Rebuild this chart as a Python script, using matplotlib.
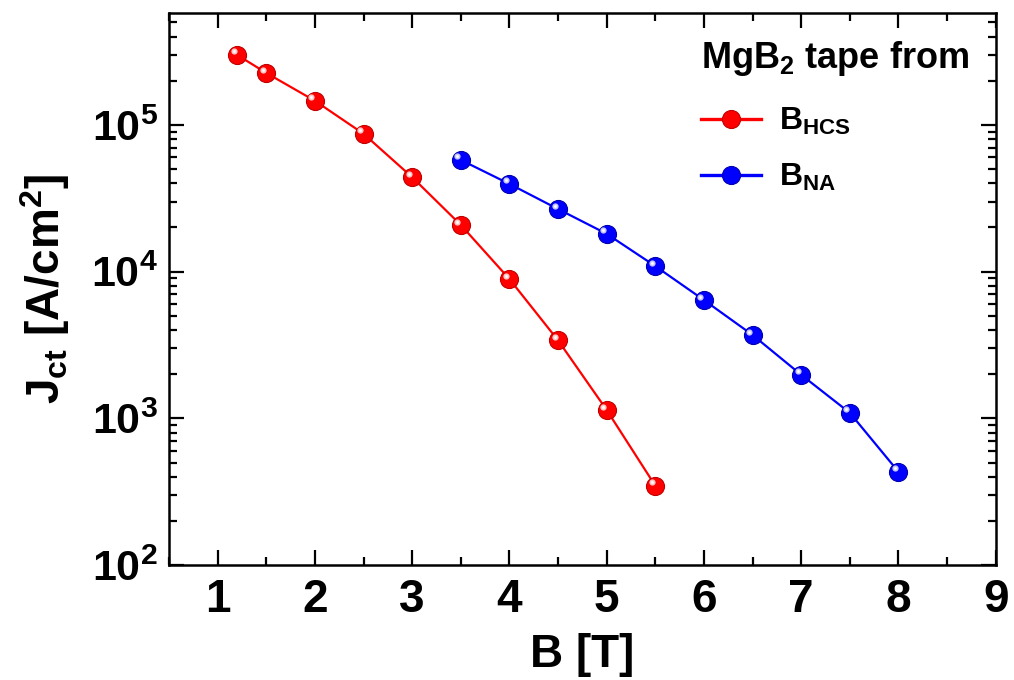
import matplotlib
matplotlib.use("Agg")
import matplotlib.pyplot as plt
from matplotlib.ticker import FixedLocator, FuncFormatter, LogLocator, NullFormatter
import matplotlib.transforms as mtransforms
import numpy as np

plt.rcParams['font.family'] = ['Liberation Sans', 'DejaVu Sans']
plt.rcParams['font.weight'] = 'bold'
plt.rcParams['mathtext.fontset'] = 'custom'
plt.rcParams['mathtext.rm'] = 'Liberation Sans:bold'
plt.rcParams['mathtext.bf'] = 'Liberation Sans:bold'
plt.rcParams['mathtext.it'] = 'Liberation Sans:bold'
plt.rcParams['mathtext.sf'] = 'Liberation Sans:bold'
plt.rcParams['mathtext.default'] = 'rm'

# Data
b_hcs = [1.2, 1.5, 2.0, 2.5, 3.0, 3.5, 4.0, 4.5, 5.0, 5.5]
jc_hcs = [3.0e5, 2.26e5, 1.46e5, 8.7e4, 4.4e4, 2.08e4, 8.9e3, 3.4e3, 1.14e3, 347]
b_na = [3.5, 4.0, 4.5, 5.0, 5.5, 6.0, 6.5, 7.0, 7.5, 8.0]
jc_na = [5.77e4, 3.96e4, 2.67e4, 1.81e4, 1.09e4, 6.4e3, 3.7e3, 1.98e3, 1.09e3, 432]
x_ticks = [1, 2, 3, 4, 5, 6, 7, 8, 9]

fig = plt.figure(figsize=(10.14, 6.8), dpi=100)
ax = fig.add_axes([0.1667, 0.169, 0.8153, 0.812])

series = [
    (b_hcs, jc_hcs, '#ff0000', '#c00000', '#ffc8c8', r'B$_{\mathregular{HCS}}$'),
    (b_na, jc_na, '#0000ff', '#0000b0', '#c8c8ff', r'B$_{\mathregular{NA}}$'),
]
hl = mtransforms.offset_copy(ax.transData, fig=fig, x=-2.5, y=2.5, units='points')
for xs, ys, col, ecol, hcol, lab in series:
    ax.plot(xs, ys, '-', color=col, lw=1.6, marker='o', ms=13,
            mfc=col, mec=ecol, mew=0.8, label=lab, zorder=3)
    ax.plot(xs, ys, linestyle='none', marker='o', ms=4.5,
            mfc=hcol, mec='none', transform=hl, zorder=4)
    ax.plot(xs, ys, linestyle='none', marker='o', ms=2,
            mfc='white', mec='none', transform=hl, zorder=5)

ax.set_yscale('log')
ax.set_xlim(0.5, 9)
ax.set_ylim(100, 5.8e5)

ax.xaxis.set_major_locator(FixedLocator(x_ticks))
ax.xaxis.set_minor_locator(FixedLocator([t + 0.5 for t in x_ticks[:-1]] + [0.5]))
ax.xaxis.set_major_formatter(FuncFormatter(lambda v, p: f'{int(v)}'))
ax.yaxis.set_major_locator(LogLocator(base=10, numticks=10))
ax.yaxis.set_minor_locator(LogLocator(base=10, subs=np.arange(2, 10), numticks=10))
ax.yaxis.set_minor_formatter(NullFormatter())
ax.yaxis.set_major_formatter(FuncFormatter(lambda v, p: r'$\mathbf{10^{%d}}$' % int(round(np.log10(v)))))

ax.tick_params(which='both', direction='in', top=True, right=True, width=1.6)
ax.tick_params(which='major', length=11, pad=8)
ax.tick_params(axis='x', which='major', labelsize=33, pad=9)
ax.tick_params(axis='y', which='major', labelsize=31)
ax.tick_params(which='minor', length=6)
for lab in ax.get_xticklabels() + ax.get_yticklabels():
    lab.set_fontweight('bold')
for s in ax.spines.values():
    s.set_linewidth(1.8)

ax.set_xlabel('B [T]', fontsize=33, fontweight='bold', labelpad=8)
ax.set_ylabel(r'J$_{\mathregular{ct}}$ [A/cm$^{\mathregular{2}}$]', fontsize=33,
              fontweight='bold', labelpad=14)

leg = ax.legend(loc='upper left', bbox_to_anchor=(0.643, 0.952), frameon=False,
                title=r'MgB$_{\mathregular{2}}$ tape from', fontsize=23,
                title_fontsize=26, handlelength=1.9, labelspacing=0.78,
                handletextpad=0.55, alignment='left', borderpad=0,
                borderaxespad=0)
leg.get_title().set_fontweight('bold')
leg._legend_box.sep = 20
for t in leg.get_texts():
    t.set_fontweight('bold')
for ln in leg.get_lines():
    ln.set_linewidth(2.4)

fig.savefig('out.png', dpi=100)
